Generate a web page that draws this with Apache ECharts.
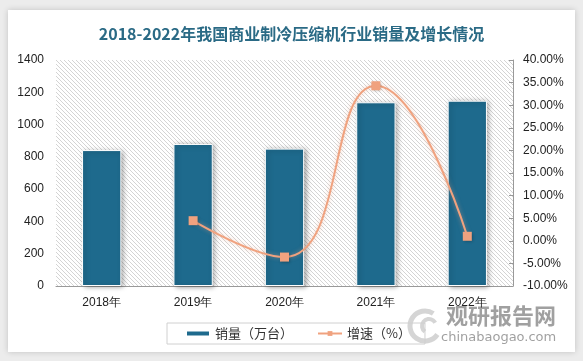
<!DOCTYPE html>
<html><head><meta charset="utf-8">
<script src="https://cdn.jsdelivr.net/npm/echarts@6/dist/echarts.min.js"></script>
<style>html,body{margin:0;padding:0;background:#ececec;}#card{position:absolute;left:8px;top:10px;width:567px;height:342px;background:#fff;box-shadow:0 0 6px rgba(0,0,0,0.18);}#c{position:absolute;left:0;top:0;width:583px;height:361px;}</style>
</head><body>
<div id="card"></div>
<div id="c"></div>
<script>
var categories = ['2018年','2019年','2020年','2021年','2022年'];
var sales = [842, 880, 851, 1138, 1148];
var growth = [null, 4.45, -3.6, 34.3, 1.0];
var leftTicks = [0, 1400, 200];
var rightTicks = [-10, 40, 5];

var pc = document.createElement('canvas');
pc.width = 4; pc.height = 4;
var g = pc.getContext('2d');
g.fillStyle = '#ffffff'; g.fillRect(0,0,4,4);
g.strokeStyle = '#d4d4d4'; g.lineWidth = 1;
g.beginPath(); g.moveTo(0,0); g.lineTo(4,4); g.moveTo(-1,3); g.lineTo(1,5); g.moveTo(3,-1); g.lineTo(5,1); g.stroke();

var chart = echarts.init(document.getElementById('c'), null, {renderer:'canvas'});
var font = 'Liberation Sans, DejaVu Sans, sans-serif';
chart.setOption({
  backgroundColor: 'transparent',
  animation: false,
  title: {
    text: '2018-2022年我国商业制冷压缩机行业销量及增长情况',
    left: 'center', top: 21,
    textStyle: {color:'#2a6a85', fontSize:16, fontWeight:'bold', fontFamily:'Noto Sans CJK SC'}
  },
  grid: {left:56, right:70, top:60, bottom:75, show:true, borderWidth:0,
    backgroundColor: {image: pc, repeat: 'repeat'}},
  legend: {
    bottom: 17, left: 167, itemGap: 24,
    padding: [4, 14, 4, 18],
    borderColor: '#d0d0d0', borderWidth: 1,
    textStyle: {fontSize:13, color:'#333', fontFamily:'Noto Sans CJK SC'},
    data: [
      {name:'销量（万台）', icon:'rect', itemStyle:{color:'#1e6a8d'}},
      {name:'增速（%）'}
    ],
    itemWidth: 24, itemHeight: 6
  },
  xAxis: {
    type:'category', data: categories,
    axisLine:{lineStyle:{color:'#999'}},
    axisTick:{show:false},
    axisLabel:{color:'#222', fontSize:12, margin:11, fontFamily:font}
  },
  yAxis: [
    {type:'value', min:leftTicks[0], max:leftTicks[1], interval:leftTicks[2],
     splitLine:{show:false}, axisLine:{show:false}, axisTick:{show:false},
     axisLabel:{color:'#222', fontSize:12, margin:12, fontFamily:font,
       formatter:function(v){return String(v);}}},
    {type:'value', min:rightTicks[0], max:rightTicks[1], interval:rightTicks[2],
     splitLine:{show:false},
     axisLine:{show:true, lineStyle:{color:'#999'}},
     axisTick:{show:true, inside:true, length:4, lineStyle:{color:'#999'}},
     axisLabel:{color:'#222', fontSize:12, margin:10, fontFamily:font,
       formatter:function(v){return v.toFixed(2)+'%';}}}
  ],
  series: [
    {name:'销量（万台）', type:'bar', data: sales, barWidth:'43%',
     itemStyle:{color:'#1e6a8d', borderColor:'#ffffff', borderWidth:1,
       shadowColor:'rgba(0,0,0,0.35)', shadowBlur:5, shadowOffsetX:2, shadowOffsetY:1}},
    {name:'增速（%）', type:'line', yAxisIndex:1, data: growth, smooth:0.5,
     symbol:'rect', symbolSize:9,
     lineStyle:{color:'#f0a27f', width:2, shadowColor:'rgba(240,162,127,0.5)', shadowBlur:4},
     itemStyle:{color:'#f0a27f', shadowColor:'rgba(0,0,0,0.25)', shadowBlur:3, shadowOffsetX:1, shadowOffsetY:1}}
  ],
  graphic: [
    {type:'text', left:446, top:305, style:{text:'观研报告网', fill:'rgba(120,120,120,0.7)', font:'bold 22px "Noto Sans CJK SC"'}},
    {type:'text', left:441, top:331, style:{text:'chinabaogao.com', fill:'rgba(120,120,120,0.7)', font:'13px "DejaVu Sans"'}},
    {type:'arc', shape:{cx:425, cy:326, r:15, startAngle:0.6, endAngle:5.3}, style:{stroke:'rgba(150,150,150,0.4)', lineWidth:5, fill:null}},
    {type:'arc', shape:{cx:429, cy:326, r:7, startAngle:2.2, endAngle:5.8}, style:{stroke:'rgba(150,150,150,0.4)', lineWidth:4, fill:null}}
  ]
});
</script>
</body></html>
